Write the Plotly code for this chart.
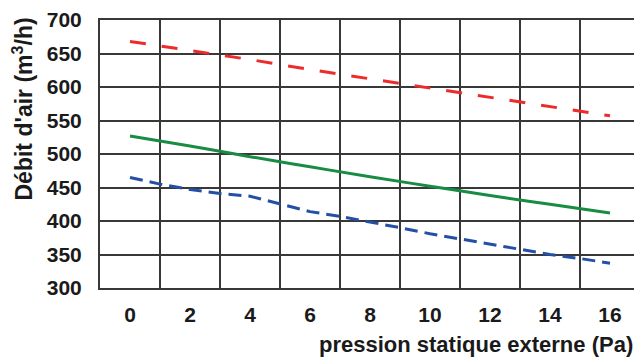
import plotly.graph_objects as go

pression_even = [0, 2, 4, 6, 8, 10, 12, 14, 16]
debit_rouge = [668, 655, 641, 626, 612, 598, 584, 570, 557]
debit_vert = [527, 512, 496, 481, 466, 452, 438, 425, 412]
pression_bleu = [0, 1, 2, 3, 4, 5, 6, 7, 8, 9, 10, 11, 12, 13, 14, 15, 16]
debit_bleu = [465, 455, 447, 441, 437, 426, 414, 407, 399, 390, 381, 373, 365, 357, 350, 344, 337]

x_ticks = [0, 2, 4, 6, 8, 10, 12, 14, 16]
y_ticks = [300, 350, 400, 450, 500, 550, 600, 650, 700]

GRID = "#383838"
FONT = "Liberation Sans, Arial, sans-serif"

fig = go.Figure()
fig.add_trace(go.Scatter(x=pression_even, y=debit_rouge, mode="lines",
                         line=dict(color="#ee2b2b", width=3, dash="16px,16px"),
                         showlegend=False))
fig.add_trace(go.Scatter(x=pression_even, y=debit_vert, mode="lines",
                         line=dict(color="#178c42", width=3, shape="spline"),
                         showlegend=False))
fig.add_trace(go.Scatter(x=pression_bleu, y=debit_bleu, mode="lines",
                         line=dict(color="#2350a6", width=3, dash="13px,7px"),
                         showlegend=False))

fig.update_layout(
    width=634, height=354,
    margin=dict(l=92, r=0, t=7, b=74),
    paper_bgcolor="white", plot_bgcolor="white",
    font=dict(family=FONT, color="#1a1a1a"),
    xaxis=dict(
        range=[-1, 17], tickmode="array", tickvals=x_ticks,
        ticktext=[str(v) for v in x_ticks],
        showgrid=False, zeroline=False, ticks="",
        ticklabelstandoff=7, ticklabeloverflow="allow",
        tickfont=dict(size=21, family=FONT, weight="bold", color="#1a1a1a"),
        showline=True, linecolor=GRID, linewidth=2, mirror=True,
        minor=dict(tickmode="array", tickvals=[-1, 1, 3, 5, 7, 9, 11, 13, 15, 17],
                   showgrid=True, gridcolor=GRID, gridwidth=2, ticks=""),
    ),
    yaxis=dict(
        range=[300, 700], tickmode="array", tickvals=y_ticks,
        showgrid=True, gridcolor=GRID, gridwidth=2, zeroline=False, ticks="",
        ticklabelstandoff=12, ticklabeloverflow="allow",
        tickfont=dict(size=21, family=FONT, weight="bold", color="#1a1a1a"),
        showline=True, linecolor=GRID, linewidth=2, mirror=True,
    ),
    annotations=[
        dict(text="pression statique externe (Pa)", xref="paper", yref="paper",
             x=1, y=0, xanchor="right", yanchor="top", yshift=-42, xshift=-5,
             showarrow=False, font=dict(size=22, family=FONT, weight="bold", color="#1a1a1a")),
        dict(text="Débit d'air (m<sup>3</sup>/h)", xref="paper", yref="paper",
             x=0, y=1, xanchor="center", yanchor="top", xshift=-78, yshift=4,
             textangle=-90, showarrow=False,
             font=dict(size=23, family=FONT, weight="bold", color="#1a1a1a")),
    ],
)

fig.write_html("out.html")
